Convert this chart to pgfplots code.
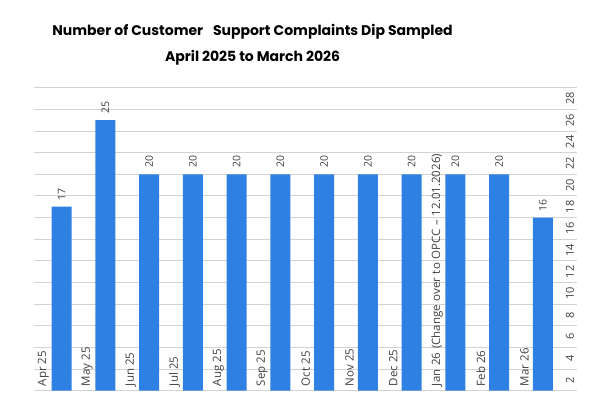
\documentclass[border=0pt]{standalone}
\usepackage{fontspec}
\setmainfont{Open Sans}
\newfontfamily\titlefont{Poppins}
\usepackage{pgfplots}
\pgfplotsset{compat=1.18}
\definecolor{barblue}{HTML}{2E80E3}
\definecolor{gridgray}{HTML}{D3D3D3}
\definecolor{labgray}{HTML}{404040}
\newcommand{\wsp}{\hspace{0.32em}}
\begin{document}
\begin{tikzpicture}
\begin{axis}[
  name=ax,
  /pgf/number format/assume math mode=true,
  scale only axis, width=543pt, height=303pt,
  xmin=-0.626, xmax=11.785, ymin=0, ymax=28,
  axis line style={draw=none},
  major tick length=0pt,
  ytick={0,2,...,28},
  yticklabels={{},2,4,6,8,10,12,14,16,18,20,22,24,26,28},
  ymajorgrids, grid style={gridgray, line width=0.9pt},
  yticklabel pos=right,
  yticklabel style={xshift=-7.3pt, yshift=-11pt, rotate=90, anchor=center, inner sep=0pt,
    font=\fontsize{11}{13}\selectfont, text=labgray},
  xtick={-0.42,0.58,1.58,2.58,3.58,4.58,5.58,6.58,7.58,8.58,9.58,10.58},
  xticklabels={Apr 25,May 25,Jun 25,Jul 25,Aug 25,Sep 25,Oct 25,Nov 25,Dec 25,{Jan\wsp26\wsp(Change\wsp{}over\wsp{}to\wsp{}OPCC\wsp--\wsp12.01.2026)},Feb 26,Mar 26},
  xticklabel style={yshift=4.5pt, rotate=90, anchor=west, inner sep=0pt,
    font=\fontsize{11.5}{13}\selectfont, text=labgray},
  ybar, bar width=20pt,
  nodes near coords,
  nodes near coords style={rotate=90, anchor=west, inner sep=0pt, outer sep=0pt, xshift=6.5pt,
    font=\fontsize{10.5}{12}\selectfont, text=labgray},
  title={Number of Customer\hspace{0.7em}Support Complaints Dip Sampled\\April 2025 to March 2026},
  title style={at={(0.402,1.122)}, anchor=center, align=center,
    font=\titlefont\bfseries\fontsize{14}{25.3}\selectfont},
]
\addplot[fill=barblue, draw=none] coordinates {
  (0,17) (1,25) (2,20) (3,20) (4,20) (5,20) (6,20) (7,20) (8,20) (9,20) (10,20) (11,16)};
\end{axis}
\pgfresetboundingbox
\path ([shift={(-34.3pt,-24.3pt)}]ax.south west) rectangle ([shift={(24.7pt,87.7pt)}]ax.north east);
\end{tikzpicture}
\end{document}
